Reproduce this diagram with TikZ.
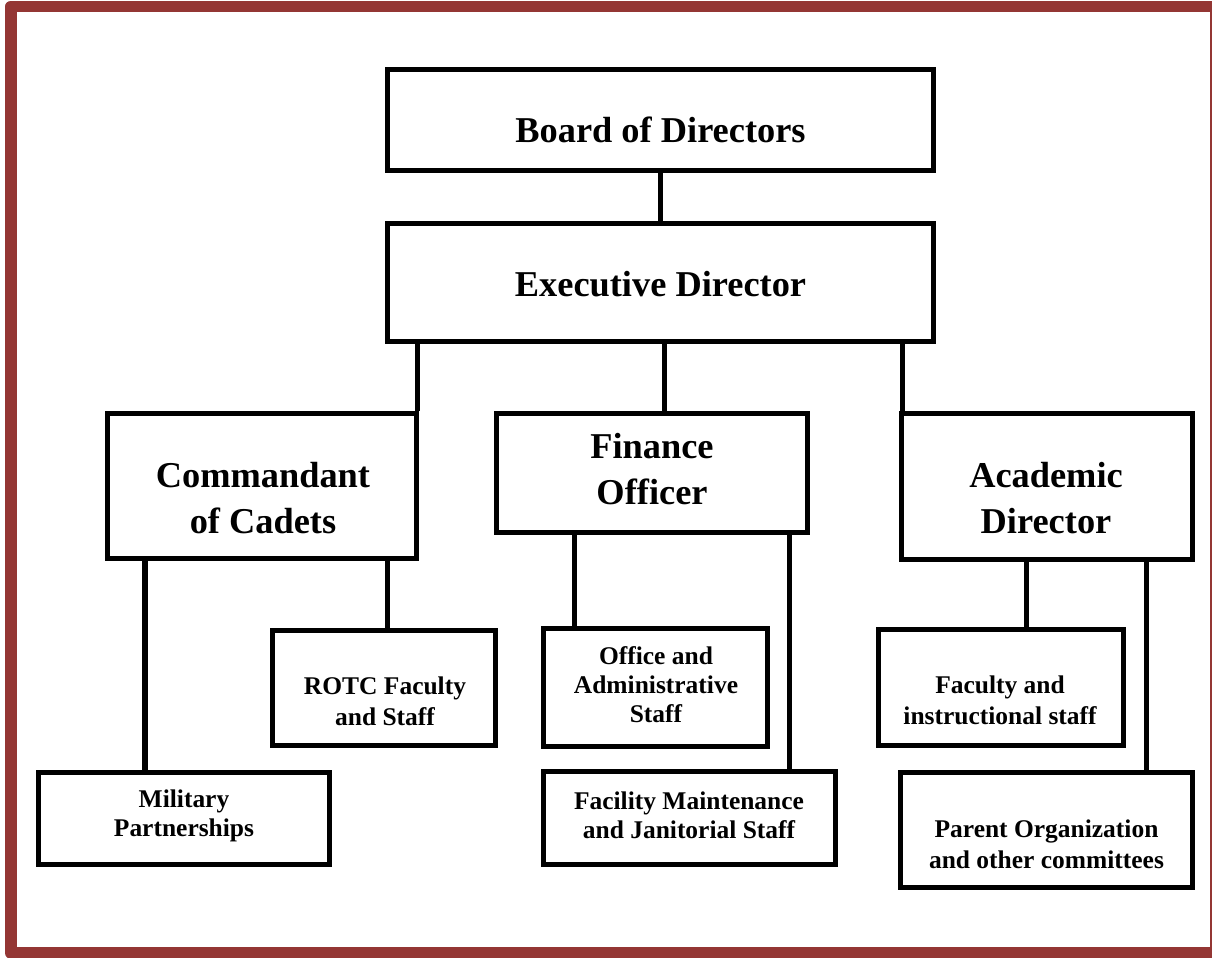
\documentclass[tikz,border=0pt]{standalone}
\usepackage{fontspec}
\setmainfont{Liberation Serif}
\usepackage{xcolor}
\usetikzlibrary{positioning,calc}
\definecolor{framered}{RGB}{148,54,52}
\tikzset{
  box/.style 2 args={draw=black, line width=2.85pt, rectangle, inner sep=0pt,
    minimum width=#1*0.02cm, minimum height=#2*0.02cm},
  bigtxt/.style={font=\fontsize{20.7}{26.2}\selectfont\bfseries, align=center, inner sep=0pt},
  smalltxt/.style={font=\fontsize{14.5}{16.5}\selectfont\bfseries, align=center, inner sep=0pt},
  widetxt/.style={font=\fontsize{14.5}{17.8}\selectfont\bfseries, align=center, inner sep=0pt},
  link/.style={draw=black, line width=2.85pt}
}
\begin{document}
\begin{tikzpicture}[x=0.02cm,y=-0.02cm]
\useasboundingbox (0,0) rectangle (1212,957);
% outer frame
\draw[framered, line width=6.8pt, line join=round] (11,6.5) rectangle (1216,953);
% boxes
\node[box={546}{101}] (board) at (660.5,120) {};
\node[box={546}{118}] (exec) at (660.5,282.5) {};
\node[box={309}{145}] (cmd) at (262,486) {};
\node[box={311}{119}] (fin) at (652,473) {};
\node[box={291}{146}] (acad) at (1047,486.5) {};
\node[box={223}{115}] (rotc) at (384,688) {};
\node[box={291}{92}] (mil) at (184,818.5) {};
\node[box={224}{118}] (office) at (655.5,687.5) {};
\node[box={292}{93}] (facil) at (689.5,818) {};
\node[box={245}{116}] (faculty) at (1001,687.5) {};
\node[box={292}{115}] (parent) at (1046.5,830) {};
% texts
\node[bigtxt] (board-t) at (660.5,130) {Board of Directors};
\node[bigtxt] (exec-t) at (660.5,284) {Executive Director};
\node[bigtxt] (cmd-t) at (263,498) {Commandant\\of Cadets};
\node[bigtxt] (fin-t) at (652,469) {Finance\\Officer};
\node[bigtxt] (acad-t) at (1046,498) {Academic\\Director};
\node[widetxt] (rotc-t) at (385,701) {ROTC Faculty\\and Staff};
\node[smalltxt] (mil-t) at (184,816) {Military\\Partnerships};
\node[smalltxt] (office-t) at (656,685) {Office and\\Administrative\\Staff};
\node[smalltxt] (facil-t) at (689,815) {Facility Maintenance\\and Janitorial Staff};
\node[widetxt] (faculty-t) at (1000,700) {Faculty and\\instructional staff};
\node[widetxt] (parent-t) at (1046.5,844) {Parent Organization\\and other committees};
% connectors
\draw[link] (board) -- (exec);
\draw[link] (exec.south -| 417,0) -- (cmd.north -| 417,0);
\draw[link] (exec.south -| 664,0) -- (fin.north -| 664,0);
\draw[link] (exec.south -| 902,0) -- (acad.north -| 902,0);
\draw[link] (cmd.south -| 145,0) -- (mil.north -| 145,0);
\draw[link] (cmd.south -| 387,0) -- (rotc.north -| 387,0);
\draw[link] (fin.south -| 574,0) -- (office.north -| 574,0);
\draw[link] (fin.south -| 789,0) -- (facil.north -| 789,0);
\draw[link] (acad.south -| 1026,0) -- (faculty.north -| 1026,0);
\draw[link] (acad.south -| 1146,0) -- (parent.north -| 1146,0);
\end{tikzpicture}
\end{document}
